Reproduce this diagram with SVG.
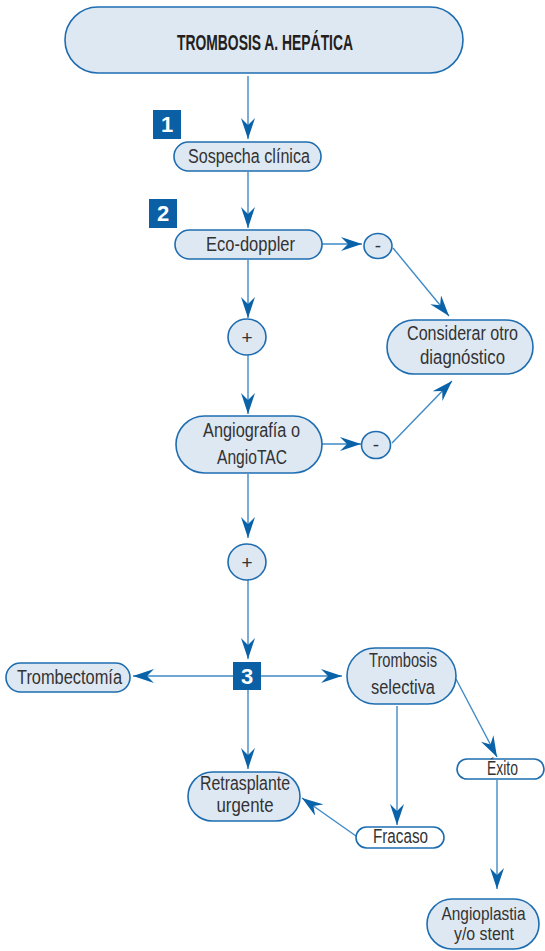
<svg xmlns="http://www.w3.org/2000/svg" width="545" height="951" viewBox="0 0 545 951">
<style>
.pill{fill:#dee8f3;stroke:#1e6db0;stroke-width:1.6}
.wpill{fill:#ffffff;stroke:#1e6db0;stroke-width:1.6}
.t{font-family:"Liberation Sans",Arial,sans-serif;font-size:20px;fill:#333333;text-anchor:middle}
.sm{font-size:18px}
.title{font-family:"Liberation Sans",Arial,sans-serif;font-size:22px;font-weight:bold;fill:#231f20;text-anchor:middle}
.num{fill:#0a5fa5}
.nt{font-family:"Liberation Sans",Arial,sans-serif;font-size:22px;font-weight:bold;fill:#ffffff;text-anchor:middle}
.sym{font-family:"Liberation Sans",Arial,sans-serif;font-size:19px;fill:#333333;text-anchor:middle}
.c{fill:none;stroke:#3f8ac6;stroke-width:1.4;marker-end:url(#ah)}
</style>
<defs>
<marker id="ah" markerUnits="userSpaceOnUse" viewBox="0 0 21 14" refX="21" refY="7" markerWidth="21" markerHeight="14" orient="auto">
<path d="M0,0 L21,7 L0,14 L7,7 Z" fill="#0a62a8"/>
</marker>
</defs>
<rect width="545" height="951" fill="#ffffff"/>
<g id="connectors">
<line class="c" x1="248" y1="76" x2="248" y2="139"/>
<line class="c" x1="248" y1="172" x2="248" y2="228"/>
<line class="c" x1="322" y1="244" x2="362" y2="244"/>
<line class="c" x1="393" y1="248" x2="449" y2="316"/>
<line class="c" x1="248" y1="260" x2="248" y2="318"/>
<line class="c" x1="248" y1="355" x2="248" y2="414"/>
<line class="c" x1="322" y1="444" x2="361" y2="444"/>
<line class="c" x1="392" y1="443" x2="452" y2="381"/>
<line class="c" x1="248" y1="474" x2="248" y2="538"/>
<line class="c" x1="248" y1="580" x2="248" y2="659"/>
<line class="c" x1="233" y1="676" x2="133" y2="676"/>
<line class="c" x1="261" y1="676" x2="342" y2="676"/>
<line class="c" x1="248" y1="690" x2="248" y2="769"/>
<line class="c" x1="397" y1="706" x2="397" y2="825"/>
<line class="c" x1="456" y1="679" x2="497" y2="757"/>
<line class="c" x1="356" y1="836" x2="302" y2="798"/>
<line class="c" x1="497" y1="780" x2="497" y2="889"/>
</g>
<g id="n-title">
<rect class="pill" x="65" y="7" width="398" height="66" rx="33"/>
<text class="title" x="265" y="50" textLength="176" lengthAdjust="spacingAndGlyphs">TROMBOSIS A. HEPÁTICA</text>
</g>
<g id="n-1">
<rect class="num" x="153" y="110" width="28" height="29"/>
<text class="nt" x="167" y="132">1</text>
</g>
<g id="n-sospecha">
<rect class="pill" x="174" y="142" width="147" height="29" rx="14.5"/>
<text class="t" x="249" y="163" textLength="122" lengthAdjust="spacingAndGlyphs">Sospecha clínica</text>
</g>
<g id="n-2">
<rect class="num" x="149" y="199" width="28" height="29"/>
<text class="nt" x="163" y="221">2</text>
</g>
<g id="n-eco">
<rect class="pill" x="175" y="230" width="147" height="29" rx="14.5"/>
<text class="t" x="250.5" y="251" textLength="89" lengthAdjust="spacingAndGlyphs">Eco-doppler</text>
</g>
<g id="n-neg1">
<ellipse class="pill" cx="378" cy="246" rx="14" ry="12.5"/>
<text class="sym" x="378" y="252">-</text>
</g>
<g id="n-considerar">
<rect class="pill" x="387" y="320" width="146" height="54" rx="27"/>
<text class="t" x="462.5" y="340" textLength="111" lengthAdjust="spacingAndGlyphs">Considerar otro</text>
<text class="t" x="462.5" y="364" textLength="85" lengthAdjust="spacingAndGlyphs">diagnóstico</text>
</g>
<g id="n-pos1">
<ellipse class="pill" cx="247" cy="337" rx="19" ry="18"/>
<text class="sym" x="247" y="344">+</text>
</g>
<g id="n-angio">
<rect class="pill" x="176" y="416" width="146" height="57" rx="28.5"/>
<text class="t" x="251.5" y="437" textLength="97" lengthAdjust="spacingAndGlyphs">Angiografía o</text>
<text class="t" x="252" y="464" textLength="70" lengthAdjust="spacingAndGlyphs">AngioTAC</text>
</g>
<g id="n-neg2">
<ellipse class="pill" cx="376" cy="445" rx="14.5" ry="13.5"/>
<text class="sym" x="376" y="451">-</text>
</g>
<g id="n-pos2">
<ellipse class="pill" cx="247" cy="562" rx="19" ry="18"/>
<text class="sym" x="247" y="569">+</text>
</g>
<g id="n-3">
<rect class="num" x="233" y="662" width="28" height="28"/>
<text class="nt" x="247" y="684">3</text>
</g>
<g id="n-trombectomia">
<rect class="pill" x="6" y="663" width="124" height="29" rx="14.5"/>
<text class="t" x="69.5" y="684" textLength="105" lengthAdjust="spacingAndGlyphs">Trombectomía</text>
</g>
<g id="n-trombosis-sel">
<rect class="pill" x="347" y="648" width="109" height="56" rx="28"/>
<text class="t" x="403" y="667" textLength="68" lengthAdjust="spacingAndGlyphs">Trombosis</text>
<text class="t" x="403" y="694" textLength="64" lengthAdjust="spacingAndGlyphs">selectiva</text>
</g>
<g id="n-retrasplante">
<rect class="pill" x="188" y="772" width="112" height="49" rx="24.5"/>
<text class="t" x="245" y="790" textLength="90" lengthAdjust="spacingAndGlyphs">Retrasplante</text>
<text class="t" x="245" y="812" textLength="57" lengthAdjust="spacingAndGlyphs">urgente</text>
</g>
<g id="n-exito">
<rect class="wpill" x="457" y="759" width="87" height="20" rx="10"/>
<text class="t" x="502.5" y="775" textLength="31" lengthAdjust="spacingAndGlyphs">Éxito</text>
</g>
<g id="n-fracaso">
<rect class="wpill" x="356" y="827" width="88" height="21" rx="10.5"/>
<text class="t" x="400.5" y="843" textLength="55" lengthAdjust="spacingAndGlyphs">Fracaso</text>
</g>
<g id="n-angioplastia">
<rect class="pill" x="427" y="899" width="112" height="50" rx="25"/>
<text class="t sm" x="483.5" y="920" textLength="84" lengthAdjust="spacingAndGlyphs">Angioplastia</text>
<text class="t sm" x="484" y="940" textLength="60" lengthAdjust="spacingAndGlyphs">y/o stent</text>
</g>
</svg>
